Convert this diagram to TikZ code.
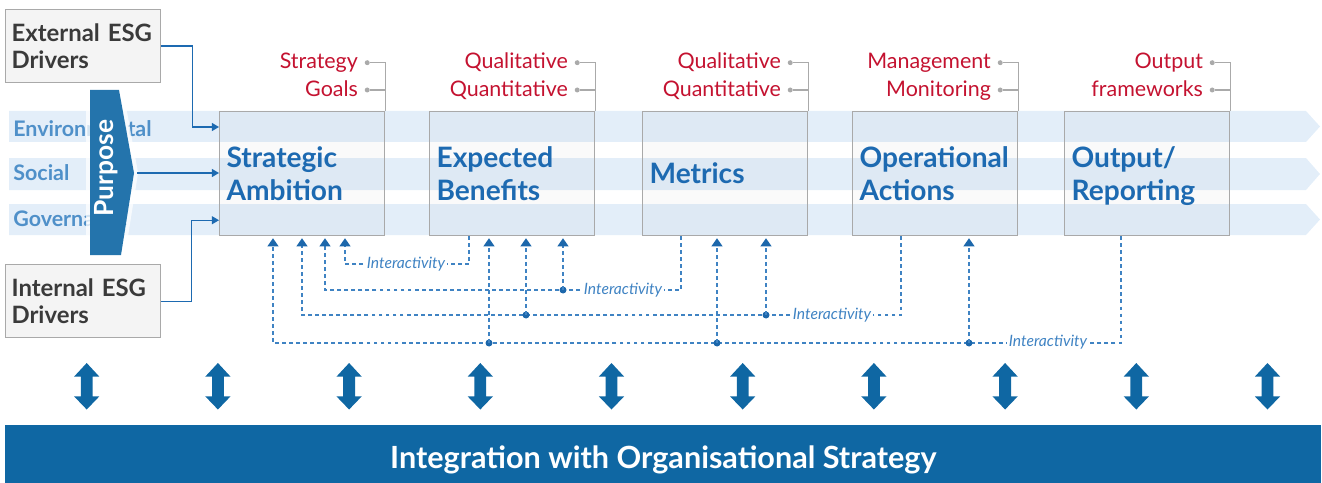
\documentclass[tikz,border=0pt]{standalone}
\usepackage{fontspec}
\setmainfont{Lato}
\usetikzlibrary{arrows.meta,calc}
\newdimen\pxu \pxu=0.02cm
\definecolor{bandblue}{HTML}{E3EEF9}
\definecolor{bandtext}{HTML}{4F90C9}
\definecolor{titleblue}{HTML}{1D6AB1}
\definecolor{bannerblue}{HTML}{0F67A3}
\definecolor{purposeblue}{HTML}{2474AC}
\definecolor{redlab}{HTML}{C41230}
\definecolor{lgray}{HTML}{AAAAAA}
\definecolor{boxgray}{HTML}{A9A9A9}
\definecolor{dashblue}{HTML}{3F83C3}
\definecolor{tipblue}{HTML}{1C67AB}
\definecolor{drvtext}{HTML}{3A3A3A}
\definecolor{drvfill}{HTML}{F4F4F4}
\begin{document}
\begin{tikzpicture}[x=0.02cm,y=-0.02cm,
 bandlab/.style={anchor=base west,text=bandtext,font=\fontsize{12.2}{14}\selectfont\bfseries,inner sep=0pt},
 stagebox/.style={draw=boxgray,line width=0.7pt,fill=black,fill opacity=0.018,text opacity=1,text=titleblue,font=\fontsize{16}{18.7}\selectfont\bfseries,align=left,text width=151\pxu,inner xsep=7\pxu,inner ysep=0pt,minimum height=124\pxu,anchor=north west},
 drvbox/.style={draw=boxgray,line width=0.7pt,fill=drvfill,text=drvtext,font=\fontsize{13.6}{15.3}\selectfont\bfseries,align=left,text width=143\pxu,inner xsep=6\pxu,inner ysep=0pt,minimum height=73\pxu,anchor=north west},
 redtag/.style={anchor=base east,text=redlab,font=\fontsize{12.2}{14}\selectfont,inner sep=0pt},
 gdot/.style={circle,fill=lgray,inner sep=0pt,minimum size=5\pxu},
 gline/.style={draw=lgray,line width=0.6pt},
 inarrow/.style={draw=titleblue,line width=0.7pt,-{Triangle[width=4.5pt,length=4pt]}},
 idash/.style={draw=dashblue,line width=0.7pt,dash pattern=on 2.2pt off 1.8pt},
 iarrow/.style={idash,-{Triangle[width=6.2pt,length=4.6pt,color=tipblue]}},
 jdot/.style={circle,fill=tipblue,inner sep=0pt,minimum size=7\pxu},
 ilab/.style={fill=white,text=dashblue,font=\fontsize{8.9}{10}\selectfont\itshape,inner xsep=1pt,inner ysep=0.5pt},
]
\useasboundingbox (0,0) rectangle (1322,483);
% bands
\foreach \ya/\yb in {111/142,158/190,204/235}
  \fill[bandblue] (9,\ya) -- (1306,\ya) -- (1320,{(\ya+\yb)/2}) -- (1306,\yb) -- (9,\yb) -- cycle;
\node[bandlab] (env) at (13,136) {Environmental};
\node[bandlab] (soc) at (13,180) {Social};
\node[bandlab] (gov) at (13,226) {Governance};
% purpose
\path[fill=white,draw=white,line width=8\pxu,opacity=0.75,line join=miter] (90,90) -- (119,90) -- (134,173) -- (121,255) -- (90,255) -- cycle;
\fill[purposeblue] (90,90) -- (119,90) -- (134,173) -- (121,255) -- (90,255) -- cycle;
\node[rotate=90,text=white,font=\fontsize{15}{17}\selectfont\bfseries,inner sep=0pt] (purp) at (106,168) {Purpose};
\coordinate (ptip) at (137,173);
% driver boxes
\node[drvbox] (ext) at (5,9) {\mbox{External ESG}\\Drivers};
\node[drvbox] (int) at (5,264) {\mbox{Internal ESG}\\Drivers};
% stage boxes
\node[stagebox] (sa) at (219,111) {\mbox{Strategic}\\Ambition};
\node[stagebox] (eb) at (429,111) {\mbox{Expected}\\Benefits};
\node[stagebox] (me) at (642,111) {Metrics};
\node[stagebox] (oa) at (852,111) {\mbox{Operational}\\Actions};
\node[stagebox] (or) at (1064,111) {\mbox{Output/}\\\smash{Reporting}};
% red labels
\foreach \n/\a/\b in {sa/Strategy/Goals,eb/Qualitative/Quantitative,me/Qualitative/Quantitative,oa/Management/Monitoring,or/Output/frameworks}{
  \node[gdot] (\n-d1) at ($(\n.north east)+(-18,-48.3)$) {};
  \node[gdot] (\n-d2) at ($(\n.north east)+(-18,-21)$) {};
  \node[redtag] (\n-l1) at ($(\n.north east)+(-27,-42)$) {\a};
  \node[redtag] (\n-l2) at ($(\n.north east)+(-27,-14)$) {\b};
  \draw[gline] (\n-d1) -- (\n-d1 -| \n.north east) -- (\n.north east);
  \draw[gline] (\n-d2) -- (\n-d2 -| \n.north east);
}
% input arrows
\draw[inarrow] (ext.east) -- ++(31,0) |- ($(sa.north west)+(0,16)$);
\draw[inarrow] (ptip) -- (ptip -| sa.west);
\draw[inarrow] (int.east) -- ++(30,0) |- ($(sa.south west)+(0,-16)$);
% interactivity
\coordinate (sa1) at ($(sa.south west)+(54,2)$);
\coordinate (sa2) at ($(sa.south west)+(83,2)$);
\coordinate (sa3) at ($(sa.south west)+(106,2)$);
\coordinate (sa4) at ($(sa.south west)+(126,2)$);
\coordinate (eb0) at ($(eb.south west)+(40,0)$);
\coordinate (eb1) at ($(eb.south west)+(60,2)$);
\coordinate (eb2) at ($(eb.south west)+(97,2)$);
\coordinate (eb3) at ($(eb.south west)+(134,2)$);
\coordinate (me0) at ($(me.south west)+(39,0)$);
\coordinate (me1) at ($(me.south west)+(75,2)$);
\coordinate (me2) at ($(me.south west)+(124,2)$);
\coordinate (oa0) at ($(oa.south west)+(49,0)$);
\coordinate (oa1) at ($(oa.south west)+(117,2)$);
\coordinate (or0) at ($(or.south west)+(57,0)$);
\coordinate (lv1) at (0,264);
\coordinate (lv2) at (0,290);
\coordinate (lv3) at (0,315);
\coordinate (lv4) at (0,343);
\draw[iarrow] (eb0) -- (eb0 |- lv1) -- (sa4 |- lv1) -- (sa4);
\draw[iarrow] (me0) -- (me0 |- lv2) -- (sa3 |- lv2) -- (sa3);
\draw[iarrow] (oa0) -- (oa0 |- lv3) -- (sa2 |- lv3) -- (sa2);
\draw[iarrow] (or0) -- (or0 |- lv4) -- (sa1 |- lv4) -- (sa1);
\node[jdot] (j1) at (eb3 |- lv2) {};
\node[jdot] (j2) at (eb2 |- lv3) {};
\node[jdot] (j3) at (me2 |- lv3) {};
\node[jdot] (j4) at (eb1 |- lv4) {};
\node[jdot] (j5) at (me1 |- lv4) {};
\node[jdot] (j6) at (oa1 |- lv4) {};
\draw[iarrow] (j1.center) -- (eb3);
\draw[iarrow] (j2.center) -- (eb2);
\draw[iarrow] (j3.center) -- (me2);
\draw[iarrow] (j4.center) -- (eb1);
\draw[iarrow] (j5.center) -- (me1);
\draw[iarrow] (j6.center) -- (oa1);
\node[ilab] (t1) at (406,264) {Interactivity};
\node[ilab] (t2) at (623,290) {Interactivity};
\node[ilab] (t3) at (832,315) {Interactivity};
\node[ilab] (t4) at (1048,342) {Interactivity};
% double arrows
\foreach \i in {0,...,9}{
  \pgfmathsetmacro\cx{86.7+131.2*\i}
  \fill[bannerblue] (\cx,363) -- (\cx+12.7,376.7) -- (\cx+5.9,376.7) -- (\cx+5.9,396.3) -- (\cx+12.7,396.3) -- (\cx,409.5) -- (\cx-12.7,396.3) -- (\cx-5.9,396.3) -- (\cx-5.9,376.7) -- (\cx-12.7,376.7) -- cycle;
}
% banner
\node[fill=bannerblue,text=white,font=\fontsize{17.4}{20}\selectfont\bfseries,minimum width=1316\pxu,minimum height=58\pxu,inner sep=0pt,text height=28\pxu,text depth=0pt,anchor=north west] (banner) at (5,425) {Integration with Organisational Strategy};
\end{tikzpicture}
\end{document}
